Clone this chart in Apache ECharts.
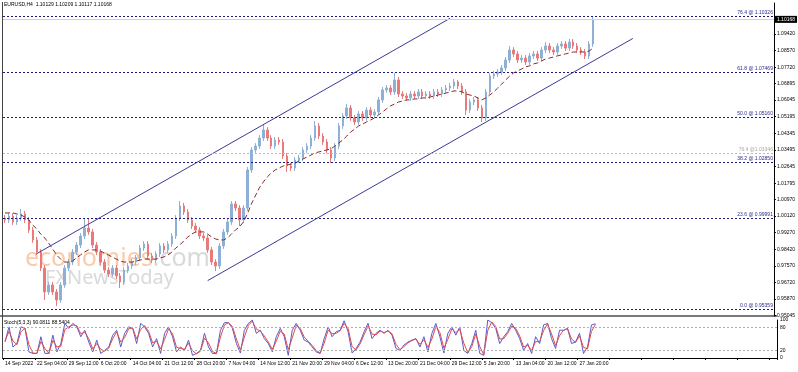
<!DOCTYPE html>
<html><head><meta charset="utf-8">
<script src="https://cdn.jsdelivr.net/npm/echarts@6/dist/echarts.min.js"></script>
<style>html,body{margin:0;padding:0;background:#fff}#c{width:798px;height:372px}</style>
</head><body><div id="c"></div>
<script>
const symbolTitle = 'EURUSD,H4  1.10129 1.10209 1.10117 1.10168';
const stochTitle = 'Stoch(5,3,3) 90.0811 88.5404';
const tickLabels = ['14 Sep 2022','22 Sep 04:00','29 Sep 12:00','6 Oct 20:00','14 Oct 04:00','21 Oct 12:00','28 Oct 20:00','7 Nov 04:00','14 Nov 12:00','21 Nov 20:00','29 Nov 04:00','6 Dec 12:00','13 Dec 20:00','21 Dec 04:00','29 Dec 12:00','5 Jan 20:00','13 Jan 04:00','20 Jan 12:00','27 Jan 20:00'];
const priceTicks = [1.09420,1.08570,1.07720,1.06895,1.06045,1.05195,1.04345,1.03495,1.02645,1.01795,1.00970,1.00120,0.99270,0.98420,0.97570,0.96720,0.95870,0.95045];
const stochTicks = [0,20,80,100];
const slotCount = 194;
const lastPrice = 1.10168;
// [open, close, low, high]
const candles = [
[1.0001,0.9991,0.9976,1.0016],[0.9991,1.0011,0.9976,1.0026],[1.0011,0.9981,0.9966,1.0026],[0.9981,1.0001,0.9966,1.0016],[1.0001,1.0022,0.9986,1.0047],
[1.0022,0.9991,0.9976,1.0037],[0.9991,0.9940,0.9925,1.0006],[0.9940,0.9889,0.9874,0.9955],[0.9889,0.9827,0.9812,0.9904],[0.9827,0.9745,0.9730,0.9842],
[0.9745,0.9623,0.9582,0.9760],[0.9623,0.9659,0.9608,0.9674],[0.9659,0.9623,0.9608,0.9674],[0.9623,0.9582,0.9551,0.9638],[0.9582,0.9659,0.9567,0.9674],
[0.9659,0.9745,0.9644,0.9760],[0.9745,0.9776,0.9730,0.9791],[0.9776,0.9827,0.9761,0.9842],[0.9827,0.9863,0.9812,0.9878],[0.9863,0.9909,0.9848,0.9924],
[0.9909,0.9950,0.9894,1.0001],[0.9950,0.9930,0.9915,1.0001],[0.9930,0.9863,0.9848,0.9945],[0.9863,0.9827,0.9812,0.9878],[0.9827,0.9776,0.9761,0.9842],
[0.9776,0.9735,0.9720,0.9791],[0.9735,0.9715,0.9700,0.9750],[0.9715,0.9745,0.9700,0.9760],[0.9745,0.9705,0.9690,0.9760],[0.9705,0.9674,0.9643,0.9720],
[0.9674,0.9735,0.9659,0.9750],[0.9735,0.9756,0.9720,0.9771],[0.9756,0.9776,0.9741,0.9791],[0.9776,0.9797,0.9761,0.9812],[0.9797,0.9848,0.9782,0.9863],
[0.9848,0.9868,0.9833,0.9883],[0.9868,0.9807,0.9792,0.9883],[0.9807,0.9786,0.9771,0.9822],[0.9786,0.9817,0.9771,0.9832],[0.9817,0.9858,0.9802,0.9873],
[0.9858,0.9838,0.9823,0.9873],[0.9838,0.9868,0.9823,0.9883],[0.9868,0.9909,0.9853,0.9924],[0.9909,1.0001,0.9894,1.0016],[1.0001,1.0063,0.9986,1.0088],
[1.0063,1.0032,1.0017,1.0078],[1.0032,0.9991,0.9976,1.0047],[0.9991,0.9960,0.9945,1.0006],[0.9960,0.9940,0.9925,0.9975],[0.9940,0.9909,0.9894,0.9955],
[0.9909,0.9899,0.9884,0.9924],[0.9899,0.9838,0.9823,0.9914],[0.9838,0.9776,0.9761,0.9853],[0.9776,0.9756,0.9730,0.9791],[0.9756,0.9858,0.9741,0.9873],
[0.9858,0.9930,0.9843,0.9945],[0.9930,0.9981,0.9915,0.9996],[0.9981,1.0073,0.9966,1.0088],[1.0073,1.0052,1.0037,1.0088],[1.0052,0.9991,0.9960,1.0067],
[0.9991,1.0052,0.9976,1.0067],[1.0052,1.0247,1.0037,1.0262],[1.0247,1.0349,1.0232,1.0364],[1.0349,1.0369,1.0334,1.0384],[1.0369,1.0410,1.0354,1.0425],
[1.0410,1.0451,1.0395,1.0477],[1.0451,1.0410,1.0395,1.0466],[1.0410,1.0369,1.0354,1.0425],[1.0369,1.0400,1.0354,1.0415],[1.0400,1.0390,1.0375,1.0415],
[1.0390,1.0318,1.0303,1.0405],[1.0318,1.0267,1.0237,1.0333],[1.0267,1.0257,1.0242,1.0282],[1.0257,1.0298,1.0242,1.0313],[1.0298,1.0308,1.0283,1.0323],
[1.0308,1.0349,1.0293,1.0364],[1.0349,1.0369,1.0334,1.0384],[1.0369,1.0410,1.0354,1.0425],[1.0410,1.0472,1.0395,1.0497],[1.0472,1.0420,1.0405,1.0487],
[1.0420,1.0390,1.0375,1.0435],[1.0390,1.0349,1.0334,1.0405],[1.0349,1.0308,1.0282,1.0364],[1.0308,1.0369,1.0293,1.0384],[1.0369,1.0472,1.0354,1.0487],
[1.0472,1.0523,1.0457,1.0538],[1.0523,1.0564,1.0508,1.0584],[1.0564,1.0513,1.0498,1.0579],[1.0513,1.0492,1.0477,1.0528],[1.0492,1.0533,1.0477,1.0548],
[1.0533,1.0513,1.0498,1.0548],[1.0513,1.0553,1.0498,1.0568],[1.0553,1.0528,1.0513,1.0568],[1.0528,1.0543,1.0513,1.0558],[1.0543,1.0605,1.0528,1.0620],
[1.0605,1.0656,1.0590,1.0671],[1.0656,1.0666,1.0641,1.0681],[1.0666,1.0646,1.0631,1.0681],[1.0646,1.0707,1.0631,1.0743],[1.0707,1.0635,1.0620,1.0722],
[1.0635,1.0625,1.0610,1.0650],[1.0625,1.0615,1.0600,1.0640],[1.0615,1.0635,1.0600,1.0650],[1.0635,1.0625,1.0610,1.0650],[1.0625,1.0646,1.0610,1.0661],
[1.0646,1.0625,1.0610,1.0661],[1.0625,1.0635,1.0610,1.0650],[1.0635,1.0625,1.0610,1.0650],[1.0625,1.0646,1.0610,1.0661],[1.0646,1.0635,1.0620,1.0661],
[1.0635,1.0656,1.0620,1.0671],[1.0656,1.0666,1.0641,1.0681],[1.0666,1.0676,1.0651,1.0691],[1.0676,1.0697,1.0661,1.0712],[1.0697,1.0676,1.0661,1.0707],
[1.0676,1.0646,1.0631,1.0691],[1.0646,1.0553,1.0528,1.0661],[1.0553,1.0594,1.0538,1.0609],[1.0594,1.0605,1.0579,1.0620],[1.0605,1.0564,1.0549,1.0620],
[1.0564,1.0513,1.0492,1.0579],[1.0513,1.0646,1.0498,1.0661],[1.0646,1.0727,1.0631,1.0742],[1.0727,1.0738,1.0712,1.0753],[1.0738,1.0748,1.0723,1.0763],
[1.0748,1.0768,1.0733,1.0783],[1.0768,1.0809,1.0753,1.0824],[1.0809,1.0860,1.0794,1.0881],[1.0860,1.0840,1.0825,1.0875],[1.0840,1.0809,1.0794,1.0855],
[1.0809,1.0819,1.0794,1.0834],[1.0819,1.0799,1.0784,1.0834],[1.0799,1.0830,1.0784,1.0845],[1.0830,1.0840,1.0815,1.0855],[1.0840,1.0819,1.0804,1.0855],
[1.0819,1.0860,1.0804,1.0875],[1.0860,1.0881,1.0845,1.0901],[1.0881,1.0860,1.0845,1.0896],[1.0860,1.0850,1.0835,1.0875],[1.0850,1.0881,1.0835,1.0896],
[1.0881,1.0891,1.0866,1.0906],[1.0891,1.0870,1.0855,1.0906],[1.0870,1.0901,1.0855,1.0917],[1.0901,1.0881,1.0866,1.0916],[1.0881,1.0860,1.0845,1.0896],
[1.0860,1.0850,1.0835,1.0875],[1.0850,1.0830,1.0814,1.0865],[1.0830,1.0891,1.0815,1.0906],[1.0891,1.10168,1.0876,1.1034]
];
const maValues = [
1.0027,1.0027,1.0027,1.0022,1.0017,1.0006,0.9991,0.9965,0.9945,0.9919,
0.9899,0.9873,0.9843,0.9812,0.9791,0.9776,0.9776,0.9781,0.9797,0.9812,
0.9827,0.9838,0.9838,0.9838,0.9832,0.9822,0.9812,0.9802,0.9791,0.9781,
0.9776,0.9776,0.9776,0.9781,0.9786,0.9791,0.9791,0.9791,0.9791,0.9797,
0.9802,0.9812,0.9827,0.9848,0.9863,0.9884,0.9904,0.9919,0.9930,0.9930,
0.9930,0.9919,0.9904,0.9894,0.9889,0.9889,0.9899,0.9919,0.9940,0.9955,
0.9981,1.0022,1.0073,1.0114,1.0155,1.0185,1.0211,1.0231,1.0247,1.0257,
1.0267,1.0272,1.0277,1.0282,1.0293,1.0303,1.0313,1.0323,1.0334,1.0339,
1.0344,1.0349,1.0354,1.0369,1.0385,1.0400,1.0420,1.0441,1.0456,1.0472,
1.0482,1.0492,1.0502,1.0513,1.0528,1.0543,1.0559,1.0574,1.0584,1.0594,
1.0599,1.0605,1.0605,1.0610,1.0610,1.0615,1.0615,1.0620,1.0625,1.0630,
1.0635,1.0640,1.0646,1.0651,1.0651,1.0646,1.0635,1.0630,1.0625,1.0615,
1.0605,1.0615,1.0630,1.0646,1.0666,1.0686,1.0707,1.0727,1.0743,1.0753,
1.0763,1.0774,1.0779,1.0789,1.0794,1.0804,1.0814,1.0819,1.0824,1.0830,
1.0835,1.0840,1.0845,1.0850,1.0850,1.0850,1.0850,1.0855,1.0870
];
const stochK = [
42,82,29,38,82,78,16,12,12,56, 12,12,60,16,38,91,78,91,82,56,
73,42,16,47,12,20,29,60,73,29, 65,82,78,38,91,82,65,29,51,12,
65,82,56,16,29,20,47,7,12,20, 65,29,12,12,73,93,93,78,38,13,
73,91,100,65,73,51,38,16,56,78, 56,7,73,91,73,47,42,29,16,12,
51,82,56,69,73,98,69,13,25,42, 69,91,51,65,73,65,73,60,25,20,
34,42,47,51,29,56,16,65,91,56, 13,65,82,60,82,20,12,38,73,12,
7,100,93,78,38,56,69,91,73,51, 20,38,12,56,38,87,91,51,25,73,
73,78,38,42,65,12,29,87,90.08
];
const stochD = [
45,70,45,35,69,79,35,13,12,43, 25,12,46,29,31,75,82,87,85,64,
68,51,24,38,23,18,26,51,69,42, 54,77,79,50,75,85,70,40,44,24,
49,77,64,28,25,23,39,19,11,18, 52,40,17,12,55,87,93,83,50,21,
55,86,97,76,71,58,42,23,44,71, 63,22,53,86,78,55,44,33,20,13,
39,73,64,65,72,91,78,30,21,37, 61,84,63,61,71,67,71,64,36,22,
30,40,46,50,36,48,28,50,83,67, 26,49,77,67,75,39,14,30,63,30,
9,72,95,83,50,51,65,84,78,58, 29,33,20,43,43,72,90,63,33,59,
73,77,50,41,58,28,24,70,88.54
];
const fibLevels = [['76.4 @ 1.10326',1.10326],['61.8 @ 1.07469',1.07469],['50.0 @ 1.05160',1.05160],['38.2 @ 1.02850',1.02850],['23.6 @ 0.99991',0.99991],['0.0 @ 0.95359',0.95359]];
const fibSecondary = [['76.4 @1.03346',1.03346]];
const channelUpper = [[8,0.98190],[112,1.10223]];
const channelLower = [[51,0.96810],[158,1.09193]];

const categories = Array.from({length: slotCount}, (_, i) => String(i));
const FONT = 'Liberation Sans';
const chart = echarts.init(document.getElementById('c'), null, {renderer: 'canvas'});
const fibMark = fibLevels.map(([t, v]) => ({
  yAxis: v,
  lineStyle: {color: '#1c1c78', type: [2, 2], width: 1},
  label: {show: true, formatter: t, position: 'insideEndTop', color: '#2a2a88', fontSize: 5, fontFamily: FONT, distance: 1}
})).concat(fibSecondary.map(([t, v]) => ({
  yAxis: v,
  lineStyle: {color: '#b8b8b8', type: [2, 2], width: 1},
  label: {show: true, formatter: t, position: 'insideEndTop', color: '#a8a8a8', fontSize: 5, fontFamily: FONT, distance: 1}
}))).concat([{
  yAxis: lastPrice,
  lineStyle: {color: '#c6d4e0', type: 'solid', width: 1},
  label: {show: true, formatter: lastPrice.toFixed(5), position: 'end', color: '#fff', backgroundColor: '#000', padding: [1, 2, 1, 2], fontSize: 5, fontFamily: FONT, distance: 1}
}]);
const labelEvery = 8;
chart.setOption({
  animation: false,
  backgroundColor: '#fff',
  grid: [
    {left: 3, right: 21, top: 3, height: 313},
    {left: 3, right: 21, top: 320, height: 38}
  ],
  xAxis: [
    {type: 'category', gridIndex: 0, data: categories, boundaryGap: true, show: false},
    {type: 'category', gridIndex: 1, data: categories, boundaryGap: true,
      axisLine: {show: true, lineStyle: {color: '#000', width: 1}},
      axisTick: {show: true, length: 2, interval: (i) => i % labelEvery === 0, lineStyle: {color: '#000'}},
      axisLabel: {show: true, interval: (i) => i % labelEvery === 0, fontSize: 5, fontFamily: FONT, color: '#000', align: 'left', margin: 3,
        formatter: (v, i) => tickLabels[i / labelEvery] || ''},
      splitLine: {show: false}}
  ],
  yAxis: [
    {type: 'value', gridIndex: 0, position: 'right', min: 0.95001, max: 1.11005, scale: true,
      axisLine: {show: true, lineStyle: {color: '#000', width: 1}},
      axisTick: {show: true, length: 2, customValues: priceTicks, lineStyle: {color: '#000'}},
      axisLabel: {show: true, customValues: priceTicks, fontSize: 5, fontFamily: FONT, color: '#000', margin: 3, formatter: (v) => v.toFixed(5)},
      splitLine: {show: false}},
    {type: 'value', gridIndex: 1, position: 'right', min: 0, max: 100,
      axisLine: {show: true, lineStyle: {color: '#000', width: 1}},
      axisTick: {show: false},
      axisLabel: {show: true, customValues: stochTicks, fontSize: 5, fontFamily: FONT, color: '#000', margin: 3},
      splitLine: {show: false}}
  ],
  graphic: [
    {type: 'text', left: 4, top: 2, style: {text: symbolTitle, fontSize: 5, fontFamily: FONT, fill: '#000'}},
    {type: 'text', left: 4, top: 320, style: {text: stochTitle, fontSize: 5, fontFamily: FONT, fill: '#000'}},
    {type: 'rect', left: 0, top: 315, shape: {width: 777, height: 2}, style: {fill: '#7a7a7a'}},
    {type: 'rect', left: 2, top: 2, shape: {width: 1, height: 357}, style: {fill: '#444'}},
    {type: 'text', left: 25, top: 246, z: 0, style: {text: '{a|economies}{b|.com}', fontFamily: 'Noto Sans', rich: {
      a: {fontSize: 25, fill: 'rgba(244,160,100,0.55)', fontFamily: 'Noto Sans'},
      b: {fontSize: 25, fill: 'rgba(180,180,180,0.5)', fontFamily: 'Noto Sans'}}}},
    {type: 'text', left: 45, top: 268, z: 0, style: {text: 'FXNewsToday', fontSize: 20, fontFamily: 'Noto Sans', fill: 'rgba(170,170,170,0.45)'}}
  ],
  series: [
    {type: 'candlestick', xAxisIndex: 0, yAxisIndex: 0, data: candles, barWidth: 2,
      itemStyle: {color: '#8eb0d6', color0: '#e87a7a', borderColor: '#8eb0d6', borderColor0: '#e87a7a', borderWidth: 1},
      markLine: {silent: true, precision: 5, symbol: ['none', 'none'], data: fibMark}},
    {type: 'line', xAxisIndex: 0, yAxisIndex: 0, data: maValues, showSymbol: false, silent: true,
      lineStyle: {color: '#8a2a2a', width: 1, type: [5, 3]}},
    {type: 'line', xAxisIndex: 0, yAxisIndex: 0, data: channelUpper, showSymbol: false, silent: true,
      lineStyle: {color: '#3a3a9a', width: 1}},
    {type: 'line', xAxisIndex: 0, yAxisIndex: 0, data: channelLower, showSymbol: false, silent: true,
      lineStyle: {color: '#3a3a9a', width: 1}},
    {type: 'line', xAxisIndex: 1, yAxisIndex: 1, data: stochK, showSymbol: false, silent: true,
      lineStyle: {color: '#5a5ad0', width: 1},
      markLine: {silent: true, symbol: ['none', 'none'], label: {show: false},
        lineStyle: {color: '#b0b0b0', type: [2, 2], width: 1}, data: [{yAxis: 20}, {yAxis: 80}]}},
    {type: 'line', xAxisIndex: 1, yAxisIndex: 1, data: stochD, showSymbol: false, silent: true,
      lineStyle: {color: '#e04a4a', width: 1}}
  ]
});
</script>
</body></html>
